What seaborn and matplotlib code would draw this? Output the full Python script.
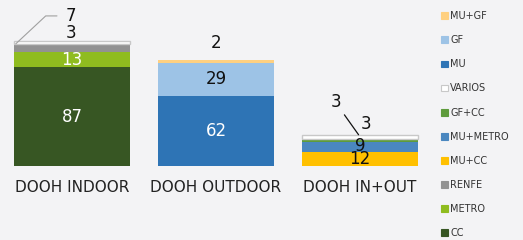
import matplotlib
matplotlib.use("Agg")
import matplotlib.pyplot as plt
import matplotlib.patches as mpatches
import seaborn as sns
import pandas as pd

categories = ["DOOH INDOOR", "DOOH OUTDOOR", "DOOH IN+OUT"]
series = ["CC", "METRO", "RENFE", "MU+CC", "MU+METRO", "GF+CC", "VARIOS", "MU", "GF", "MU+GF"]
values = {
    "CC":       [87, 0, 0],
    "METRO":    [13, 0, 0],
    "RENFE":    [7, 0, 0],
    "MU+CC":    [0, 0, 12],
    "MU+METRO": [0, 0, 9],
    "GF+CC":    [0, 0, 3],
    "VARIOS":   [3, 0, 3],
    "MU":       [0, 62, 0],
    "GF":       [0, 29, 0],
    "MU+GF":    [0, 2, 0],
}
colors = {
    "CC": "#375623", "METRO": "#8FBC1F", "RENFE": "#929292", "MU+CC": "#FFC000",
    "MU+METRO": "#4A87C0", "GF+CC": "#5E9B3C", "VARIOS": "#FFFFFF", "MU": "#2E74B5",
    "GF": "#9DC3E6", "MU+GF": "#FFD080",
}
inside_white = {("CC", 0), ("METRO", 0), ("MU", 1)}
inside_black = {("GF", 1), ("MU+METRO", 2), ("MU+CC", 2)}

bg = "#F3F3F5"
fig = plt.figure(figsize=(5.23, 2.40), dpi=100, facecolor=bg)
ax = fig.add_axes([0.0, 74 / 240, 432 / 523, 166 / 240])
ax.set_facecolor(bg)

cum = [0.0, 0.0, 0.0]
seg = {}
for s in series:
    vals = values[s]
    idx = [i for i, v in enumerate(vals) if v > 0]
    df = pd.DataFrame({"cat": [categories[i] for i in idx], "val": [vals[i] for i in idx]})
    bottoms = [cum[i] for i in idx]
    edge = "#C8C8C8" if s == "VARIOS" else "none"
    lw = 1.0 if s == "VARIOS" else 0
    sns.barplot(data=df, x="cat", y="val", order=categories, color=colors[s],
                saturation=1, errorbar=None, width=0.8, ax=ax,
                bottom=bottoms, edgecolor=edge, linewidth=lw)
    for i in idx:
        seg[(s, i)] = (cum[i], vals[i])
        cum[i] += vals[i]

fs = 12
for (s, i), (b, v) in seg.items():
    if (s, i) in inside_white:
        ax.text(i, b + v / 2, str(v), ha="center", va="center", color="white", fontsize=fs)
    elif (s, i) in inside_black:
        ax.text(i, b + v / 2 + (1.5 if s == "MU+METRO" else 0), str(v), ha="center",
                va="center", color="#111111", fontsize=fs)

# outside labels
ax.text(1, 108, str(values["MU+GF"][1]), ha="center", va="center", fontsize=fs, color="#111111")
ax.annotate(str(values["RENFE"][0]), xy=(-0.39, 107.5), xytext=(-0.01, 132),
            ha="center", va="center", fontsize=fs, color="#111111",
            arrowprops=dict(arrowstyle="-", color="#A0A0A0", lw=0.8,
                            connectionstyle="angle,angleA=0,angleB=43,rad=0",
                            shrinkA=4, shrinkB=0))
ax.text(-0.01, 117, str(values["VARIOS"][0]), ha="center", va="center", fontsize=fs, color="#111111")
ax.annotate(str(values["VARIOS"][2]), xy=(1.99, 27.5), xytext=(1.83, 56),
            ha="center", va="center", fontsize=fs, color="#111111",
            arrowprops=dict(arrowstyle="-", color="#111111", lw=0.9, shrinkA=1, shrinkB=0))
ax.text(2.04, 37, str(values["GF+CC"][2]), ha="center", va="center", fontsize=fs, color="#111111")

ax.set_xlim(-0.5, 2.5)
ax.set_ylim(0, 146)
ax.set_xlabel("")
ax.set_ylabel("")
ax.set_yticks([])
ax.tick_params(axis="x", length=0, pad=10, labelsize=11, labelcolor="#222222")
for sp in ax.spines.values():
    sp.set_visible(False)

handles = []
for s in reversed(series):
    ec = "#C8C8C8" if s == "VARIOS" else colors[s]
    handles.append(mpatches.Patch(facecolor=colors[s], edgecolor=ec, linewidth=0.8, label=s))
fig.legend(handles=handles, loc="upper left", bbox_to_anchor=(434 / 523, 0.982),
           frameon=False, fontsize=7, handlelength=0.7, handleheight=0.7,
           handletextpad=0.25, labelspacing=1.45, borderaxespad=0.3,
           labelcolor="#333333")

fig.savefig("out.png", dpi=100, facecolor=bg)
